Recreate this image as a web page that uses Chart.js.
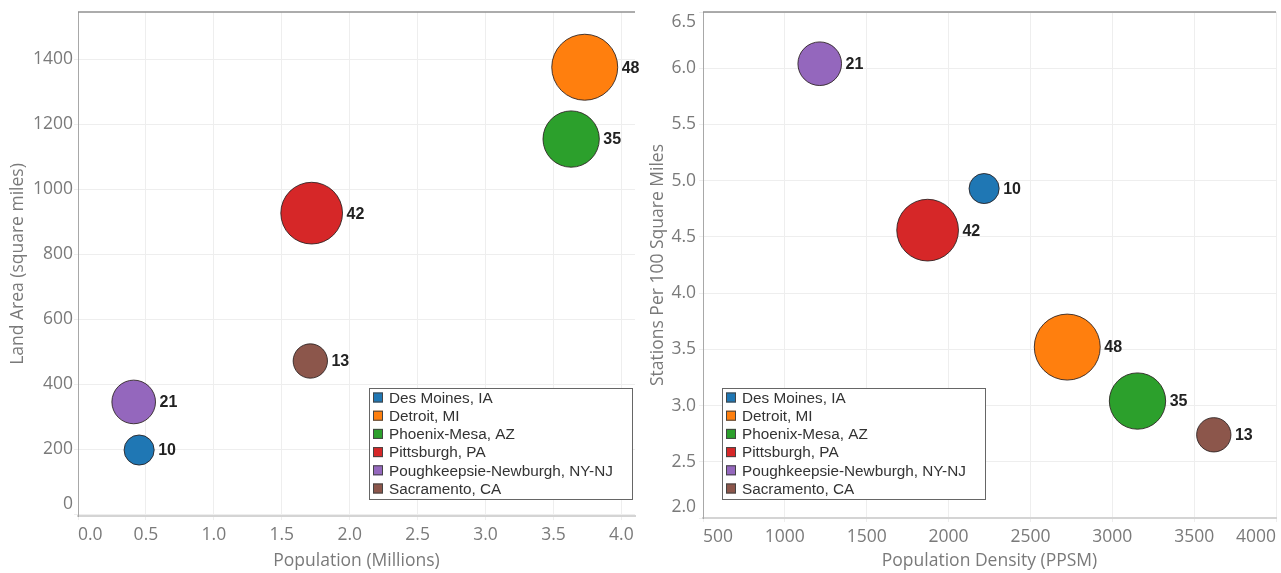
<!DOCTYPE html>
<html>
<head>
<meta charset="utf-8">
<script src="https://cdn.jsdelivr.net/npm/chart.js@4.4.1/dist/chart.umd.min.js"></script>
<style>
  html, body { margin: 0; padding: 0; background: #fff; width: 1281px; height: 573px; overflow: hidden; }
  canvas { position: absolute; top: 0; }
  #izq { left: 0; }
  #der { left: 640px; }
</style>
</head>
<body>
<canvas id="izq" width="640" height="573"></canvas>
<canvas id="der" width="641" height="573"></canvas>
<script>
// Datos: una burbuja por área metropolitana.
const CIUDADES = ["Des Moines, IA", "Detroit, MI", "Phoenix-Mesa, AZ", "Pittsburgh, PA", "Poughkeepsie-Newburgh, NY-NJ", "Sacramento, CA"];
const COLORES = ["#1f77b4", "#ff7f0e", "#2ca02c", "#d62728", "#9467bd", "#8c564b"];
const ESTACIONES = [10, 48, 35, 42, 21, 13];
const POBLACION = [0.45, 3.73, 3.63, 1.72, 0.41, 1.71];      // millones
const SUPERFICIE = [197, 1375, 1154, 926, 345, 471];         // millas cuadradas
const DENSIDAD = [2217, 2725, 3154, 1872, 1213, 3620];       // PPSM
const ESTACIONES_100 = [4.93, 3.52, 3.04, 4.56, 6.04, 2.74]; // por 100 mi²

// Marcas de los ejes.
const TICKS_POBLACION = [0, 0.5, 1, 1.5, 2, 2.5, 3, 3.5, 4];
const TICKS_SUPERFICIE = [0, 200, 400, 600, 800, 1000, 1200, 1400];
const TICKS_DENSIDAD = [500, 1000, 1500, 2000, 2500, 3000, 3500, 4000];
const TICKS_EST100 = [2, 2.5, 3, 3.5, 4, 4.5, 5, 5.5, 6, 6.5];

Chart.defaults.font.family = '"Open Sans", sans-serif';
Chart.defaults.animation = false;

const GRIS = "#7a7a7a";

// Radio de la burbuja según número de estaciones (área proporcional).
const radio = (n) => 4.76 * Math.sqrt(n);

function datasets(xs, ys) {
  return CIUDADES.map((c, i) => ({
    label: c,
    data: [{ x: xs[i], y: ys[i], r: radio(ESTACIONES[i]) }],
    backgroundColor: COLORES[i],
    borderColor: "rgba(40,30,30,0.85)",
    borderWidth: 1,
  }));
}

// Número de estaciones a la derecha de cada burbuja.
const etiquetas = {
  id: "etiquetas",
  afterDatasetsDraw(chart) {
    const ctx = chart.ctx;
    ctx.save();
    ctx.font = 'bold 16px "Liberation Sans", Arial, sans-serif';
    ctx.fillStyle = "#222";
    ctx.textBaseline = "middle";
    chart.data.datasets.forEach((ds, i) => {
      chart.getDatasetMeta(i).data.forEach((el) => {
        ctx.fillText(String(ESTACIONES[i]), el.x + el.options.radius + 4, el.y + 1);
      });
    });
    ctx.restore();
  },
};

// Línea superior del área de trazado.
const bordeSuperior = {
  id: "bordeSuperior",
  afterDraw(chart) {
    const { ctx, chartArea: a } = chart;
    ctx.save();
    ctx.strokeStyle = "#909090";
    ctx.lineWidth = 1.5;
    ctx.beginPath();
    ctx.moveTo(a.left, a.top);
    ctx.lineTo(a.right, a.top);
    ctx.stroke();
    ctx.restore();
  },
};

// Leyenda en recuadro dentro del área de trazado.
const leyenda = {
  id: "leyenda",
  afterDraw(chart, args, opts) {
    const ctx = chart.ctx;
    ctx.save();
    ctx.fillStyle = "#fff";
    ctx.fillRect(opts.x, opts.y, opts.w, opts.h);
    ctx.strokeStyle = "#666";
    ctx.lineWidth = 1;
    ctx.strokeRect(opts.x + 0.5, opts.y + 0.5, opts.w, opts.h);
    ctx.font = '15.3px "Liberation Sans", Arial, sans-serif';
    ctx.textBaseline = "middle";
    chart.data.datasets.forEach((ds, i) => {
      const cy = opts.y + 9.5 + i * 18.2;
      ctx.fillStyle = ds.backgroundColor;
      ctx.fillRect(opts.x + 4, cy - 5, 10, 10);
      ctx.strokeStyle = "#444";
      ctx.strokeRect(opts.x + 4.5, cy - 4.5, 9, 9);
      ctx.fillStyle = "#333";
      ctx.fillText(ds.label, opts.x + 20, cy + 1);
    });
    ctx.restore();
  },
};

function ejeX(min, max, marcas, decimales, titulo, alto, extraFinal) {
  return {
    type: "linear",
    min, max,
    afterBuildTicks: (s) => {
      s.ticks = marcas.map((v) => ({ value: v }));
      if (extraFinal) s.ticks.push({ value: max });
    },
    afterFit: (s) => { s.height = alto; },
    grid: {
      color: (c) => (c.tick && marcas.includes(c.tick.value) ? "#eeeeee" : "rgba(0,0,0,0)"),
      tickLength: 4,
    },
    border: { color: "#d4d4d4", width: 2 },
    ticks: {
      align: "inner",
      padding: 5,
      color: GRIS,
      font: { size: 17.5 },
      maxRotation: 0,
      callback: (v) => (marcas.includes(v) ? v.toFixed(decimales) : ""),
    },
    title: { display: true, text: titulo, color: GRIS, font: { size: 17.5 }, padding: { top: 0, bottom: 1 } },
  };
}

// Las etiquetas pegadas al borde se desplazan hacia dentro con una línea vacía.
function ejeY(min, max, marcas, decimales, titulo, ancho, pad, bordeInf, bordeSup) {
  return {
    type: "linear",
    min, max,
    afterBuildTicks: (s) => { s.ticks = marcas.map((v) => ({ value: v })); },
    afterFit: (s) => {
      s.width = ancho;
      s.paddingTop = 0;
      s.paddingBottom = 0;
    },
    grid: { color: "#eeeeee", tickLength: 4 },
    border: { color: "#a8a8a8", width: 1 },
    ticks: {
      padding: pad,
      color: GRIS,
      font: { size: 17.5 },
      callback: (v, i, t) => {
        const txt = v.toFixed(decimales);
        if (bordeInf && i === 0) return [txt, ""];
        if (bordeSup && i === t.length - 1) return ["", txt];
        return txt;
      },
    },
    title: { display: true, text: titulo, color: GRIS, font: { size: 17.5 }, padding: { top: 8, bottom: 0 } },
  };
}

function crearGrafico(id, xs, ys, escalas, padding, posLeyenda) {
  return new Chart(document.getElementById(id), {
    type: "bubble",
    data: { datasets: datasets(xs, ys) },
    options: {
      responsive: false,
      layout: { padding, autoPadding: false },
      scales: escalas,
      plugins: {
        legend: { display: false },
        tooltip: { enabled: false },
        leyenda: posLeyenda,
      },
    },
    plugins: [bordeSuperior, etiquetas, leyenda],
  });
}

crearGrafico(
  "izq", POBLACION, SUPERFICIE,
  {
    x: ejeX(0, 4.1, TICKS_POBLACION, 1, "Population (Millions)", 57, true),
    y: ejeY(-6, 1545, TICKS_SUPERFICIE, 0, "Land Area (square miles)", 78, 1, true, false),
  },
  { top: 12, right: 3, left: 0, bottom: 0 },
  { x: 369, y: 388, w: 263, h: 111 }
);

crearGrafico(
  "der", DENSIDAD, ESTACIONES_100,
  {
    x: ejeX(500, 4000, TICKS_DENSIDAD, 0, "Population Density (PPSM)", 55, false),
    y: ejeY(2, 6.5, TICKS_EST100, 1, "Stations Per 100 Square Miles", 63, 3, true, true),
  },
  { top: 12, right: 0, left: 0, bottom: 0 },
  { x: 82, y: 388, w: 263, h: 111 }
);
</script>
</body>
</html>
